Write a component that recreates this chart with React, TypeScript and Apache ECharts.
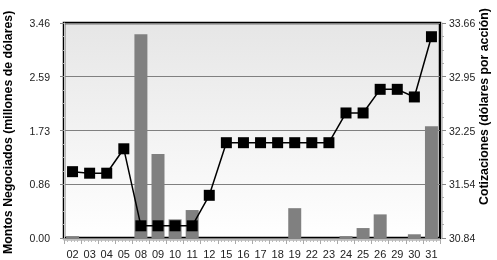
import React, { useEffect, useRef } from "react";
import * as echarts from "echarts";

const categories = ["02","03","04","05","08","09","10","11","12","15","16","17","18","19","22","23","24","25","26","29","30","31"];
const montos = [0.03,0,0,0,3.28,1.35,0.30,0.45,0,0,0,0,0,0.48,0,0,0.03,0.16,0.38,0,0.06,1.80];
const cotizaciones = [31.71,31.69,31.69,32.01,31.00,31.00,31.00,31.00,31.40,32.09,32.09,32.09,32.09,32.09,32.09,32.09,32.48,32.48,32.79,32.79,32.69,33.48];
const leftTicks = ["0.00","0.86","1.73","2.59","3.46"];
const rightTicks = ["30.84","31.54","32.25","32.95","33.66"];
const leftTitle = "Montos Negociados (millones de dólares)";
const rightTitle = "Cotizaciones (dólares por acción)";

const FONT = "'Liberation Sans', Arial, sans-serif";

export default function App() {
  const ref = useRef<HTMLDivElement>(null);
  useEffect(() => {
    if (!ref.current) return;
    const chart = echarts.init(ref.current, undefined, { renderer: "svg" });
    const lMin = 0, lMax = 3.46, lInt = 0.865;
    const rMin = 30.84, rMax = 33.66, rInt = 0.705;
    chart.setOption({
      animation: false,
      textStyle: { fontFamily: FONT },
      grid: {
        left: 64, right: 57, top: 23, bottom: 22,
        show: true,
        borderColor: "#000",
        borderWidth: 2.5,
        backgroundColor: new echarts.graphic.LinearGradient(0, 0, 0, 1, [
          { offset: 0, color: "#e6e6e6" },
          { offset: 1, color: "#ffffff" },
        ]),
      },
      xAxis: [
        {
          type: "category",
          data: categories,
          axisLine: { show: false },
          axisTick: { show: false },
          axisLabel: { color: "#222", fontSize: 11, margin: 10, interval: 0, fontFamily: FONT },
        },
        {
          type: "value",
          min: 0, max: 22, interval: 1,
          position: "bottom",
          offset: 2,
          axisLine: { show: true, lineStyle: { color: "#c8c8c8", width: 1 } },
          axisTick: { show: true, length: 4, lineStyle: { color: "#aaa" } },
          minorTick: { show: true, splitNumber: 5, length: 2, lineStyle: { color: "#bbb" } },
          axisLabel: { show: false },
          splitLine: { show: false },
        },
      ],
      yAxis: [
        {
          type: "value",
          min: lMin, max: lMax, interval: lInt,
          position: "left",
          offset: 2,
          axisLine: { show: true, lineStyle: { color: "#c8c8c8" } },
          axisTick: { show: true, length: 4, lineStyle: { color: "#888" } },
          minorTick: { show: true, splitNumber: 4, length: 2, lineStyle: { color: "#aaa" } },
          axisLabel: {
            color: "#222", fontSize: 10.5, margin: 12,
            formatter: (v: number) => leftTicks[Math.round((v - lMin) / lInt)] ?? "",
          },
          splitLine: { show: true, lineStyle: { color: "#808080", width: 1 } },
        },
        {
          type: "value",
          min: rMin, max: rMax, interval: rInt,
          position: "right",
          offset: 2,
          axisLine: { show: true, lineStyle: { color: "#c8c8c8" } },
          axisTick: { show: true, length: 4, lineStyle: { color: "#888" } },
          minorTick: { show: true, splitNumber: 4, length: 2, lineStyle: { color: "#aaa" } },
          axisLabel: {
            color: "#222", fontSize: 10.5, margin: 7,
            formatter: (v: number) => rightTicks[Math.round((v - rMin) / rInt)] ?? "",
          },
          splitLine: { show: false },
        },
      ],
      graphic: [
        {
          type: "text",
          x: 8, y: 254,
          rotation: Math.PI / 2,
          style: { text: leftTitle, font: `bold 12.3px ${FONT}`, fill: "#000", align: "left", verticalAlign: "middle" },
        },
        {
          type: "text",
          x: 484, y: 205,
          rotation: Math.PI / 2,
          style: { text: rightTitle, font: `bold 12.3px ${FONT}`, fill: "#000", align: "left", verticalAlign: "middle" },
        },
      ],
      series: [
        {
          type: "bar",
          data: montos,
          xAxisIndex: 0,
          yAxisIndex: 0,
          barWidth: "76%",
          itemStyle: { color: "#808080" },
          z: 2,
        },
        {
          type: "line",
          data: cotizaciones,
          xAxisIndex: 0,
          yAxisIndex: 1,
          symbol: "rect",
          symbolSize: 11,
          lineStyle: { color: "#000", width: 1.5 },
          itemStyle: { color: "#000" },
          z: 3,
        },
      ],
    });
    return () => chart.dispose();
  }, []);
  return <div ref={ref} style={{ width: 497, height: 260, position: "fixed", left: 0, top: 0 }} />;
}
